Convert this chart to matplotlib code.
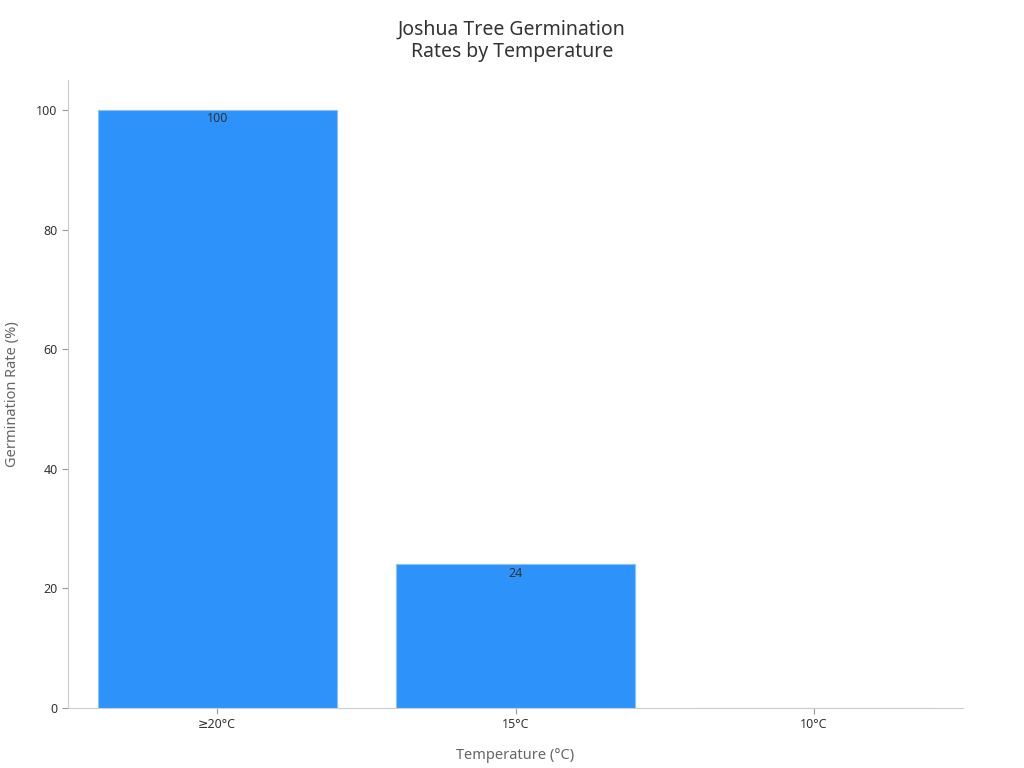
import matplotlib.pyplot as plt

plt.rcParams['font.family'] = ['Noto Sans', 'DejaVu Sans']

categories = ['≥20°C', '15°C', '10°C']
rates = [100, 24, 0]

fig = plt.figure(figsize=(10.24, 7.68), dpi=100)
ax = fig.add_axes([68 / 1024, 1 - 708 / 768, (963 - 68) / 1024, (708 - 80) / 768])

x = range(len(categories))
bars = ax.bar(x, rates, width=0.8, color='#2d92f9', edgecolor='#8cc2f7', linewidth=0.8)
for xi, v in zip(x, rates):
    if v > 0:
        ax.text(xi, v - 1.5, str(v), ha='center', va='center', fontsize=9, color='#333333')

ax.set_xlim(-0.5, 2.5)
ax.set_ylim(0, 105)
ax.set_xticks(list(x))
ax.set_xticklabels(categories)
ax.set_yticks([0, 20, 40, 60, 80, 100])
ax.tick_params(labelsize=9, colors='#333333', length=4)
ax.tick_params(color='#999999')

for s in ['top', 'right']:
    ax.spines[s].set_visible(False)
for s in ['left', 'bottom']:
    ax.spines[s].set_color('#cccccc')

ax.set_xlabel('Temperature (°C)', fontsize=10.5, color='#666666', labelpad=12)
ax.set_ylabel('Germination Rate (%)', fontsize=10.5, color='#666666', labelpad=12)
fig.suptitle('Joshua Tree Germination\nRates by Temperature', fontsize=14, color='#333333', y=0.975)

fig.savefig('out.png', dpi=100)
